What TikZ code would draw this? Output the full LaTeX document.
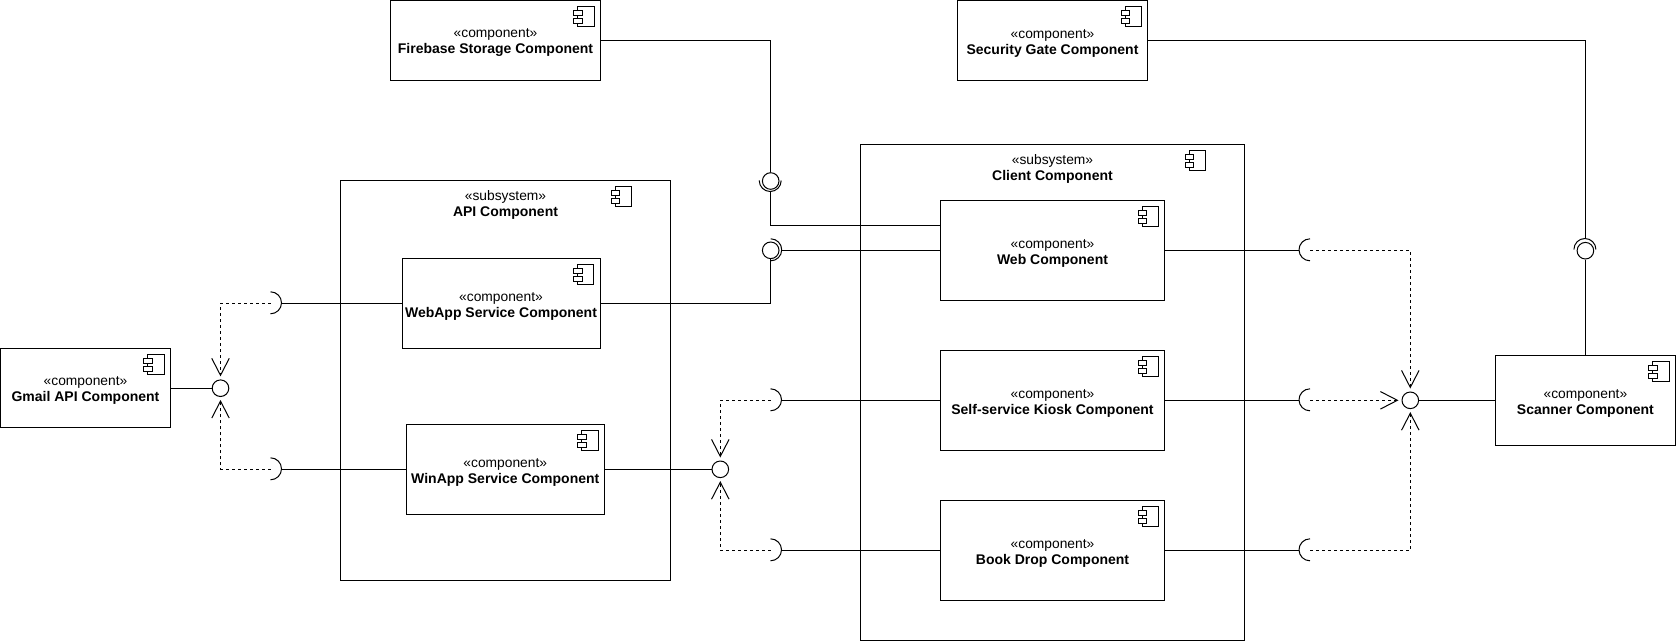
\documentclass[tikz,border=0pt]{standalone}
\usepackage{fontspec}
\setmainfont{Liberation Sans}
\usetikzlibrary{arrows.meta}

\newcommand{\comp}[1]{\rule{0pt}{14.3pt}«component»\\{\fontsize{14}{16}\selectfont\textbf{#1}}}
\newcommand{\subs}[1]{«subsystem»\\{\fontsize{14}{16}\selectfont\textbf{#1}}}

\tikzset{
	compbox/.style={draw,rectangle,inner sep=0pt,align=center,font=\fontsize{13.8}{16}\selectfont},
	subsbox/.style={draw,rectangle,inner sep=0pt},
	subslabel/.style={align=center,inner sep=0pt,anchor=base,font=\fontsize{13.8}{16}\selectfont},
	socket/.style={circle,inner sep=0pt,minimum size=22pt},
	lolly/.style={circle,draw,inner sep=0pt,minimum size=16.6pt},
	depends/.style={->,dash pattern=on 3pt off 3pt,shorten >=3pt},
	compicon/.pic={
		\draw (-23.2,6.8) rectangle (-6.8,26.8);
		\draw[fill=white] (-27.2,10.5) rectangle (-18.5,15.8);
		\draw[fill=white] (-27.2,18.8) rectangle (-18.5,23.5);
	}
}

\begin{document}
\begin{tikzpicture}[x=1pt,y=-1pt,line width=1pt,node distance=150pt,>={Straight Barb[length=17pt,width=17.5pt]}]
\useasboundingbox (0,0) rectangle (1676,641);

\node[subsbox,minimum width=330.4pt,minimum height=400pt]	(api)		at (505.5,380.3)	{};
\node[subsbox,minimum width=384.4pt,minimum height=496pt]	(client)	at (1052.5,392.3)	{};
\node[subslabel]	(api_t)		at (505.5,216)		{\subs{API Component}};
\node[subslabel]	(client_t)	at (1052.5,180)		{\subs{Client Component}};

\node[compbox,minimum width=170pt,minimum height=79.5pt]	(gmail)		at (85.5,388.2)		{\comp{Gmail API Component}};
\node[compbox,minimum width=210pt,minimum height=79.5pt]	(firebase)	at (495.5,40.3)		{\comp{Firebase Storage Component}};
\node[compbox,minimum width=190.4pt,minimum height=79.5pt]	(gate)		at (1052.5,40.3)	{\comp{Security Gate Component}};
\node[compbox,minimum width=198pt,minimum height=90pt]		(webapp)	at (501,303.3)		{\comp{WebApp Service Component}};
\node[compbox,minimum width=198pt,minimum height=90pt]		(winapp)	at (505.3,469.3)	{\comp{WinApp Service Component}};
\node[compbox,minimum width=224.4pt,minimum height=100pt]	(web)		at (1052.5,250.3)	{\comp{Web Component}};
\node[compbox,minimum width=224.4pt,minimum height=100pt]	(kiosk)		[below of=web]		{\comp{Self-service Kiosk Component}};
\node[compbox,minimum width=224.4pt,minimum height=100pt]	(bookdrop)	[below of=kiosk]	{\comp{Book Drop Component}};
\node[compbox,minimum width=180pt,minimum height=90pt]		(scanner)	at (1585.4,400.3)	{\comp{Scanner Component}};

\foreach \b in {gmail,firebase,gate,webapp,winapp,web,kiosk,bookdrop,scanner}
	\pic at (\b.north east) {compicon};
\foreach \b in {api,client}
	\pic[xshift=-33pt] at (\b.north east) {compicon};

\node[socket]	(s_0)	at (270.5,303.3)	{};
\node[socket]	(s_1)	at (270.5,469.3)	{};
\node[socket]	(s_2)	at (770.5,400.3)	{};
\node[socket]	(s_3)	at (770.5,550.3)	{};
\node[socket]	(s_4)	at (1310,250.3)		{};
\node[socket]	(s_5)	[below of=s_4]		{};
\node[socket]	(s_6)	[below of=s_5]		{};
\node[socket]	(s_7)	at (770.7,180.5)	{};
\node[socket]	(s_8)	at (770.7,250.3)	{};
\node[socket]	(s_9)	at (1585.4,249.5)	{};

\node[lolly]	(b_0)	at (220.5,388.2)	{};
\node[lolly]	(b_1)	at (720.3,469.3)	{};
\node[lolly]	(b_2)	at (1410.3,400.3)	{};
\node[lolly]	(b_3)	at (770.7,181)		{};
\node[lolly]	(b_4)	at (770.7,250.3)	{};
\node[lolly]	(b_5)	at (1585.4,250.7)	{};

\foreach \s in {s_0,s_1,s_2,s_3,s_8}
	\draw (\s.north) arc[start angle=90,end angle=-90,radius=11pt];
\foreach \s in {s_4,s_5,s_6}
	\draw (\s.north) arc[start angle=90,end angle=270,radius=11pt];
\draw (s_7.west) arc[start angle=180,end angle=360,radius=11pt];
\draw (s_9.west) arc[start angle=180,end angle=0,radius=11pt];

\draw	(gmail)		-- (b_0);
\draw	(webapp)	-- (s_0);
\draw	(winapp)	-- (s_1);
\draw	(winapp)	-- (b_1);
\draw	(kiosk)		-- (s_2);
\draw	(bookdrop)	-- (s_3);
\draw	(web)		-- (s_4);
\draw	(kiosk)		-- (s_5);
\draw	(bookdrop)	-- (s_6);
\draw	(scanner)	-- (b_2);
\draw	(scanner)	-- (b_5);
\draw	(web)		-- (s_8);
\draw	(webapp)	-| (b_4);
\draw	(firebase)	-| (b_3);
\draw	(s_7)		|- ([yshift=25pt]web.west);
\draw	(gate)		-| (s_9);

\draw[depends]	(s_0.center)	-| (b_0);
\draw[depends]	(s_1.center)	-| (b_0);
\draw[depends]	(s_2.center)	-| (b_1);
\draw[depends]	(s_3.center)	-| (b_1);
\draw[depends]	(s_4.center)	-| (b_2);
\draw[depends]	(s_5.center)	-- (b_2);
\draw[depends]	(s_6.center)	-| (b_2);
\end{tikzpicture}
\end{document}
